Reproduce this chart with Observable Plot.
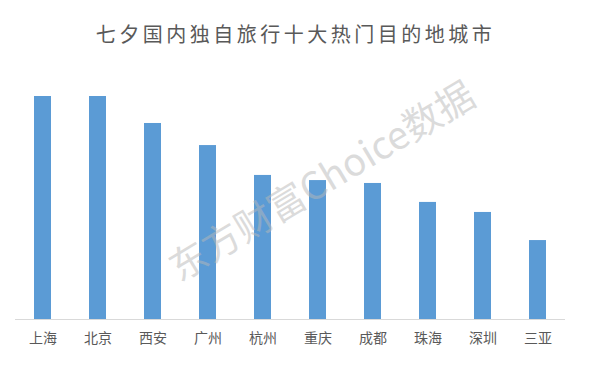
<!DOCTYPE html>
<html>
<head>
<meta charset="utf-8">
<script src="https://cdn.jsdelivr.net/npm/d3@7"></script>
<script src="https://cdn.jsdelivr.net/npm/@observablehq/plot@0.6"></script>
<style>
  html, body { margin: 0; padding: 0; background: #fff; }
  #wrap { width: 600px; height: 374px; position: relative; font-family: "Noto Sans CJK SC", sans-serif; }
  #title { height: 62px; line-height: 68px; text-align: center; font-size: 20px; color: #595959; letter-spacing: 3.5px; padding-right: 9px; box-sizing: border-box; }
</style>
</head>
<body>
<div id="wrap">
  <div id="title">七夕国内独自旅行十大热门目的地城市</div>
  <div id="chart"></div>
</div>
<script>
const cities = ["上海", "北京", "西安", "广州", "杭州", "重庆", "成都", "珠海", "深圳", "三亚"];
const values = [100, 100, 87.9, 78, 64.6, 62.3, 61, 52.5, 48, 35.4];
const watermark = "东方财富Choice数据";

const data = cities.map((c, i) => ({city: c, value: values[i]}));

const chart = Plot.plot({
  width: 600,
  height: 312,
  marginTop: 34,
  marginBottom: 55,
  marginLeft: 15,
  marginRight: 35,
  style: {fontFamily: "Noto Sans CJK SC, sans-serif", background: "#fff"},
  x: {domain: cities, paddingInner: 0.692, paddingOuter: 0.326, label: null},
  y: {domain: [0, 100], axis: null},
  marks: [
    Plot.barY(data, {x: "city", y: "value", fill: "#5b9bd5"}),
    Plot.ruleY([0], {stroke: "#d9d9d9", strokeWidth: 1.2}),
    Plot.axisX({tickSize: 0, tickPadding: 14, fontSize: 14, fill: "#595959", label: null}),
    Plot.text([watermark], {
      text: d => d,
      frameAnchor: "top-left",
      textAnchor: "middle",
      lineAnchor: "middle",
      dx: 307,
      dy: 86,
      rotate: -31,
      fontSize: 38,
      fill: "#b8b8b8",
      fillOpacity: 0.5,
      fontFamily: "Noto Sans CJK SC, sans-serif"
    })
  ]
});
document.getElementById("chart").appendChild(chart);
</script>
</body>
</html>
